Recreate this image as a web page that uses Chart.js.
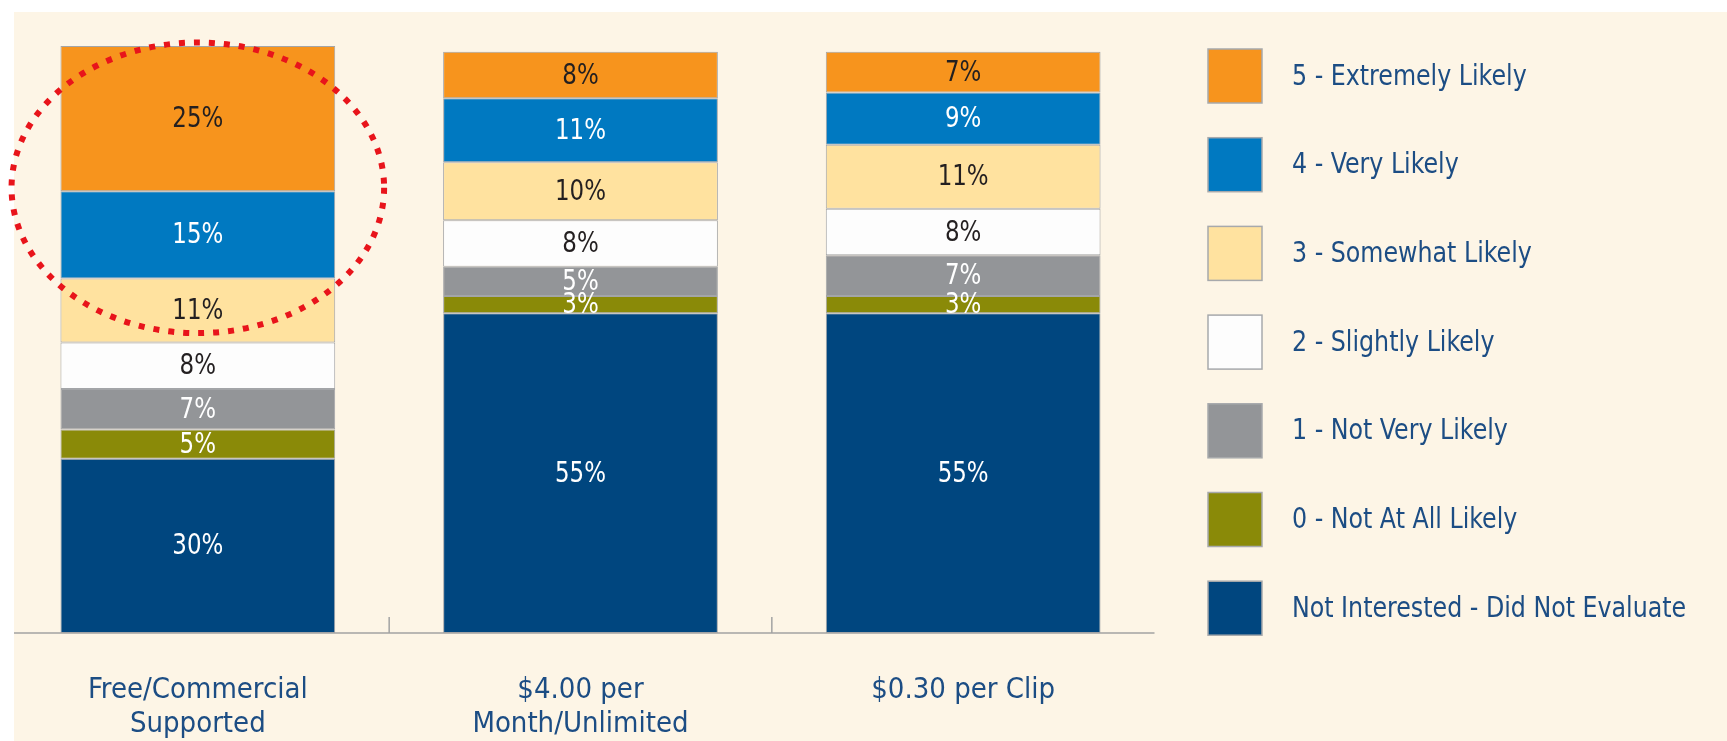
<!DOCTYPE html>
<html><head><meta charset="utf-8">
<script src="https://cdn.jsdelivr.net/npm/chart.js@4/dist/chart.umd.min.js"></script>
<style>html,body{margin:0;padding:0;background:#fff;} canvas{display:block}</style>
</head><body><canvas id="c" width="1727" height="741"></canvas>
<script>
// ---- data ----
const categories = [['Free/Commercial', 'Supported'], ['$4.00 per', 'Month/Unlimited'], '$0.30 per Clip'];
const seriesNames = ['Not Interested - Did Not Evaluate', '0 - Not At All Likely', '1 - Not Very Likely', '2 - Slightly Likely', '3 - Somewhat Likely', '4 - Very Likely', '5 - Extremely Likely'];
const notInterested = [30, 55, 55];
const notAtAllLikely = [5, 3, 3];
const notVeryLikely = [7, 5, 7];
const slightlyLikely = [8, 8, 8];
const somewhatLikely = [11, 10, 11];
const veryLikely = [15, 11, 9];
const extremelyLikely = [25, 8, 7];
const seriesValues = [notInterested, notAtAllLikely, notVeryLikely, slightlyLikely, somewhatLikely, veryLikely, extremelyLikely];

// ---- styles ----
const FONT = "'Liberation Sans Narrow', 'DejaVu Sans Condensed', 'Roboto Condensed', sans-serif";
const seriesColors = ['#00467F', '#8A8A08', '#939598', '#FDFDFD', '#FFE29F', '#0079C1', '#F7941D'];
const labelColors = ['#FFFFFF', '#FFFFFF', '#FFFFFF', '#231F20', '#231F20', '#FFFFFF', '#231F20'];
const TEXT_NAVY = '#1C4D84';
const BG = '#FDF5E6';

const backgroundPlugin = {
  id: 'bg',
  beforeDraw(chart) {
    const ctx = chart.ctx;
    ctx.save();
    ctx.fillStyle = '#FFFFFF';
    ctx.fillRect(0, 0, chart.width, chart.height);
    ctx.fillStyle = BG;
    ctx.fillRect(14, 12, chart.width - 14, chart.height - 12);
    ctx.restore();
  }
};

const axisPlugin = {
  id: 'axisDeco',
  afterDatasetsDraw(chart) {
    const ctx = chart.ctx, xs = chart.scales.x, area = chart.chartArea;
    ctx.save();
    ctx.strokeStyle = '#A3A3A3';
    ctx.lineWidth = 1.5;
    ctx.beginPath();
    ctx.moveTo(Math.max(area.left, 14), area.bottom);
    ctx.lineTo(area.right, area.bottom);
    for (let i = 1; i < categories.length; i++) {
      const xm = (xs.getPixelForValue(i - 1) + xs.getPixelForValue(i)) / 2;
      ctx.moveTo(xm, area.bottom);
      ctx.lineTo(xm, area.bottom - 16);
    }
    ctx.stroke();
    ctx.restore();
  }
};

const valueLabelPlugin = {
  id: 'valueLabels',
  afterDatasetsDraw(chart) {
    const ctx = chart.ctx;
    ctx.save();
    ctx.font = '29px ' + FONT;
    ctx.textAlign = 'center';
    ctx.textBaseline = 'middle';
    chart.data.datasets.forEach((ds, di) => {
      const meta = chart.getDatasetMeta(di);
      meta.data.forEach((bar, i) => {
        const p = bar.getProps(['x', 'y', 'base'], true);
        ctx.save();
        ctx.translate(p.x, (p.y + p.base) / 2 + 1);
        ctx.scale(0.88, 1);
        ctx.fillStyle = labelColors[di];
        ctx.fillText(ds.data[i] + '%', 0, 0);
        ctx.restore();
      });
    });
    ctx.restore();
  }
};

const legendPlugin = {
  id: 'sideLegend',
  afterDraw(chart) {
    const ctx = chart.ctx;
    ctx.save();
    ctx.font = '29px ' + FONT;
    ctx.textBaseline = 'middle';
    ctx.textAlign = 'left';
    const n = seriesNames.length;
    for (let k = 0; k < n; k++) {
      const di = n - 1 - k;
      const top = 49 + k * 88.7;
      ctx.fillStyle = seriesColors[di];
      ctx.fillRect(1208, top, 54, 54);
      ctx.strokeStyle = '#A7A9AC';
      ctx.lineWidth = 1.5;
      ctx.strokeRect(1208, top, 54, 54);
      ctx.save();
      ctx.translate(1292, top + 28);
      ctx.scale(0.91, 1);
      ctx.fillStyle = TEXT_NAVY;
      ctx.fillText(seriesNames[di], 0, 0);
      ctx.restore();
    }
    ctx.restore();
  }
};

// highlight ellipse around first bar's top segments
const highlight = { category: 0, centerValue: 76.6, halfSpanValue: 25, widthFactor: 1.356 };
const ellipsePlugin = {
  id: 'highlight',
  afterDraw(chart) {
    const ctx = chart.ctx, xs = chart.scales.x, ys = chart.scales.y;
    const bar = chart.getDatasetMeta(0).data[highlight.category];
    const cx = xs.getPixelForValue(highlight.category);
    const cy = ys.getPixelForValue(highlight.centerValue);
    const ry = Math.abs(ys.getPixelForValue(highlight.centerValue + highlight.halfSpanValue) - cy);
    const rx = bar.width * highlight.widthFactor / 2;
    ctx.save();
    ctx.strokeStyle = '#E8141B';
    ctx.lineWidth = 6;
    ctx.lineCap = 'butt';
    ctx.setLineDash([6, 9]);
    ctx.beginPath();
    ctx.ellipse(cx, cy, rx, ry, 0, 0, Math.PI * 2);
    ctx.stroke();
    ctx.restore();
  }
};

new Chart(document.getElementById('c'), {
  type: 'bar',
  data: {
    labels: categories,
    datasets: seriesNames.map((name, i) => ({
      label: name,
      data: seriesValues[i],
      backgroundColor: seriesColors[i],
      borderColor: '#A3A5A8',
      borderWidth: 1,
      borderSkipped: false,
      categoryPercentage: 1,
      barPercentage: 0.718
    }))
  },
  options: {
    responsive: false,
    animation: false,
    devicePixelRatio: 1,
    layout: { padding: { left: 6.5, right: 572.5, top: 46, bottom: 0 } },
    plugins: { legend: { display: false }, tooltip: { enabled: false } },
    scales: {
      x: {
        stacked: true,
        grid: { display: false, drawTicks: false },
        border: { display: false },
        ticks: { color: TEXT_NAVY, padding: 40, font: { family: FONT, size: 29, lineHeight: 1.172 }, maxRotation: 0 },
        afterFit(scale) { scale.height = 108; }
      },
      y: { stacked: true, display: false, min: 0, max: 101 }
    }
  },
  plugins: [backgroundPlugin, axisPlugin, valueLabelPlugin, ellipsePlugin, legendPlugin]
});
</script>
</body></html>
